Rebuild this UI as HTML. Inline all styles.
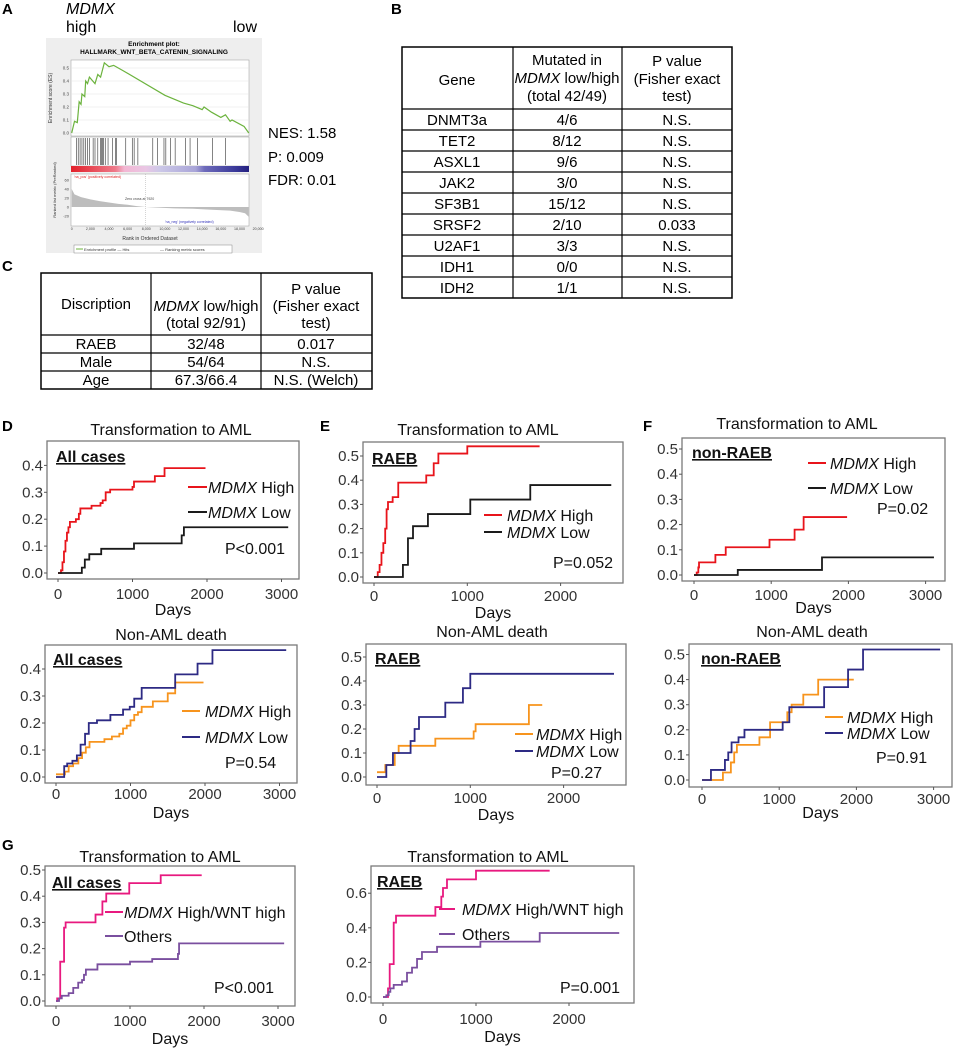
<!DOCTYPE html>
<html><head><meta charset="utf-8">
<style>
html,body{margin:0;padding:0;background:#fff;}
svg{display:block;font-family:"Liberation Sans",Arial,sans-serif;}
</style></head>
<body>
<svg id="fig" width="953" height="1050" viewBox="0 0 953 1050" xmlns="http://www.w3.org/2000/svg">
<text x="2" y="14" font-size="15" font-weight="bold">A</text>
<text x="391" y="14" font-size="15" font-weight="bold">B</text>
<text x="2" y="271" font-size="15" font-weight="bold">C</text>
<text x="2" y="431" font-size="15" font-weight="bold">D</text>
<text x="320" y="431" font-size="15" font-weight="bold">E</text>
<text x="643" y="431" font-size="15" font-weight="bold">F</text>
<text x="2" y="850" font-size="15" font-weight="bold">G</text>

<text x="66" y="14" font-size="16" font-style="italic">MDMX</text>
<text x="66" y="32" font-size="16">high</text>
<text x="233" y="32" font-size="16">low</text>
<g id="gsea">
<rect x="46" y="38" width="216" height="215" fill="#eeeeee"/>
<text x="154" y="46" font-size="6.5" font-weight="bold" text-anchor="middle">Enrichment plot:</text>
<text x="154" y="54" font-size="6.5" font-weight="bold" text-anchor="middle">HALLMARK_WNT_BETA_CATENIN_SIGNALING</text>
<rect x="71" y="60" width="178" height="76" fill="#fff" stroke="#999" stroke-width="0.5"/>
<rect x="71" y="137" width="178" height="29" fill="#fff" stroke="#999" stroke-width="0.5"/>
<defs><linearGradient id="cbar" x1="0" x2="1" y1="0" y2="0">
<stop offset="0" stop-color="#e3202a"/><stop offset="0.25" stop-color="#ee7a8a"/><stop offset="0.3" stop-color="#f3b7d3"/><stop offset="0.42" stop-color="#e9c6e4"/><stop offset="0.5" stop-color="#ccc8e8"/><stop offset="0.7" stop-color="#a9a5d8"/><stop offset="0.75" stop-color="#6e6bbb"/><stop offset="0.92" stop-color="#3b3a9a"/><stop offset="1" stop-color="#24207f"/></linearGradient></defs>
<rect x="71" y="166" width="178" height="6" fill="url(#cbar)"/>
<rect x="71" y="174" width="178" height="52" fill="#fff" stroke="#999" stroke-width="0.5"/>
<text x="74" y="178" font-size="3.5" fill="#e02020">'na_pos' (positively correlated)</text>
<text x="125" y="200" font-size="3.5" fill="#444">Zero cross at 7920</text>
<text x="165" y="223" font-size="3.5" fill="#3333bb">'na_neg' (negatively correlated)</text>
<text x="150" y="240" font-size="5" text-anchor="middle" fill="#333">Rank in Ordered Dataset</text>
<text transform="translate(52,98) rotate(-90)" font-size="5" text-anchor="middle" fill="#333">Enrichment score (ES)</text>
<text transform="translate(56,190) rotate(-90)" font-size="4" text-anchor="middle" fill="#333">Ranked list metric (PreRanked)</text>
<rect x="74" y="245" width="158" height="8" fill="#fff" stroke="#888" stroke-width="0.5"/>
<line x1="76" y1="249" x2="83" y2="249" stroke="#6cb33e" stroke-width="1"/>
<text x="84" y="251" font-size="4" fill="#333">Enrichment profile — Hits</text>
<text x="160" y="251" font-size="4" fill="#333">— Ranking metric scores</text>
</g>
<text x="268" y="138" font-size="15">NES: 1.58</text>
<text x="268" y="162" font-size="15">P: 0.009</text>
<text x="268" y="185" font-size="15">FDR: 0.01</text>

<g id="tableB"></g>
<g id="tableC"></g>
<g id="panels"></g>
</svg>
<script>
var esRank=[0,300,600,700,800,1000,1100,1400,1500,1700,1900,2500,2800,3100,3500,4000,4500,5500,10000,12000,13000,14000,14200,15000,16000,16500,17000,17200,18500,19000];
var esVal=[0,0.09,0.08,0.16,0.24,0.22,0.3,0.28,0.4,0.38,0.43,0.38,0.45,0.43,0.54,0.51,0.52,0.48,0.29,0.23,0.21,0.18,0.2,0.16,0.12,0.14,0.09,0.1,0.05,0];
var hitRanks=[500,700,900,1100,1300,1500,1700,1900,2300,2500,2800,3100,3200,3300,3400,3600,3900,4400,4700,4800,5800,6500,6700,7100,8700,9200,9900,10100,10600,11100,12200,12700,13500,15100,16500];
var metricRank=[0,300,1000,2000,3000,4000,5000,6000,7000,7920,9000,11000,13000,15000,17000,18000,18600,19000];
var metricVal=[40,28,22,17,13,10,7,5,2,0,-1,-3,-4,-6,-8,-11,-14,-22];

var bGenes=["DNMT3a","TET2","ASXL1","JAK2","SF3B1","SRSF2","U2AF1","IDH1","IDH2"];
var bCounts=["4/6","8/12","9/6","3/0","15/12","2/10","3/3","0/0","1/1"];
var bPvals=["N.S.","N.S.","N.S.","N.S.","N.S.","0.033","N.S.","N.S.","N.S."];
var cDesc=["RAEB","Male","Age"];
var cCounts=["32/48","54/64","67.3/66.4"];
var cPvals=["0.017","N.S.","N.S. (Welch)"];

var dTopHighT=[0,40,60,80,100,120,140,160,240,280,300,450,570,600,640,700,1000,1020,1300,1430];
var dTopHighV=[0,0.01,0.04,0.08,0.12,0.15,0.17,0.19,0.2,0.22,0.24,0.25,0.26,0.27,0.3,0.31,0.32,0.34,0.36,0.39];
var dTopHighEnd=1980;
var dTopLowT=[0,320,360,420,580,1020,1660,1690];
var dTopLowV=[0,0.02,0.05,0.07,0.09,0.11,0.14,0.17];
var dTopLowEnd=3090;
var dBotHighT=[0,120,170,230,300,350,400,450,650,750,850,900,950,1000,1050,1100,1150,1300,1500,1600];
var dBotHighV=[0.01,0.02,0.04,0.05,0.07,0.09,0.11,0.13,0.14,0.15,0.16,0.18,0.19,0.21,0.23,0.24,0.26,0.28,0.31,0.35];
var dBotHighEnd=1980;
var dBotLowT=[0,110,150,220,280,330,390,440,550,730,900,990,1050,1150,1600,1900,2100];
var dBotLowV=[0,0.04,0.05,0.06,0.08,0.12,0.16,0.2,0.21,0.23,0.25,0.26,0.29,0.33,0.38,0.42,0.47];
var dBotLowEnd=3090;
var eTopHighT=[0,40,60,80,100,120,135,150,200,260,560,640,690,1000];
var eTopHighV=[0,0.02,0.05,0.1,0.14,0.2,0.28,0.31,0.33,0.39,0.42,0.47,0.51,0.54];
var eTopHighEnd=1775;
var eTopLowT=[0,310,364,418,578,1032,1675];
var eTopLowV=[0,0.05,0.16,0.21,0.26,0.32,0.38];
var eTopLowEnd=2543;
var eBotHighT=[0,89,190,232,625,1036,1057,1628];
var eBotHighV=[0.02,0.05,0.1,0.13,0.16,0.19,0.22,0.3];
var eBotHighEnd=1771;
var eBotLowT=[0,100,171,360,403,450,732,921,1000];
var eBotLowV=[0,0.05,0.1,0.15,0.2,0.25,0.31,0.37,0.43];
var eBotLowEnd=2540;
var fTopHighT=[0,35,56,65,277,411,978,1303,1420];
var fTopHighV=[0,0.01,0.03,0.05,0.08,0.11,0.14,0.18,0.23];
var fTopHighEnd=1983;
var fTopLowT=[0,567,1658];
var fTopLowV=[0,0.02,0.07];
var fTopLowEnd=3108;
var fBotHighT=[0,271,374,417,452,744,882,1105,1161,1312,1505];
var fBotHighV=[0,0.03,0.07,0.11,0.14,0.17,0.23,0.27,0.3,0.34,0.4];
var fBotHighEnd=1966;
var fBotLowT=[0,116,297,340,383,473,550,1045,1131,1582,1892,2086];
var fBotLowV=[0,0.04,0.08,0.11,0.15,0.17,0.2,0.23,0.29,0.37,0.44,0.52];
var fBotLowEnd=3084;
var gLeftHighT=[0,16,57,109,130,534,627,679,990,1415];
var gLeftHighV=[0,0.01,0.15,0.28,0.3,0.33,0.38,0.41,0.45,0.48];
var gLeftHighEnd=1969;
var gLeftOthT=[0,41,78,171,233,300,352,378,404,560,1000,1300,1648,1663];
var gLeftOthV=[0,0.01,0.02,0.03,0.05,0.07,0.08,0.1,0.12,0.14,0.15,0.16,0.18,0.22];
var gLeftOthEnd=3083;
var gRightHighT=[0,54,72,115,140,563,627,645,688,1000];
var gRightHighV=[0,0.05,0.19,0.43,0.47,0.52,0.58,0.63,0.68,0.73];
var gRightHighEnd=1792;
var gRightOthT=[0,36,61,79,115,204,258,312,366,419,581,1047,1685];
var gRightOthV=[0,0.01,0.03,0.05,0.07,0.09,0.14,0.17,0.22,0.26,0.29,0.32,0.37];
var gRightOthEnd=2540;
var ticks05=[0,0.1,0.2,0.3,0.4,0.5];
var ticks04=[0,0.1,0.2,0.3,0.4];
var ticks06=[0,0.2,0.4,0.6];
var days3000=[0,1000,2000,3000];
var days2000=[0,1000,2000];

var NS="http://www.w3.org/2000/svg";
function mk(parent,tag,attrs,txt){var e=document.createElementNS(NS,tag);for(var k in attrs)e.setAttribute(k,attrs[k]);if(txt!==undefined)e.textContent=txt;parent.appendChild(e);return e;}

(function(){
  var g=document.getElementById('gsea');
  function gx(r){return 71.7+r*0.00932;}
  function gy(v){return 133-v*130;}
  [0,0.1,0.2,0.3,0.4,0.5].forEach(function(v){
    var l=mk(g,'line',{x1:71,x2:249,y1:gy(v),y2:gy(v),stroke:'#e4e4e4','stroke-width':0.5});
    
    
    var t=mk(g,'text',{x:69,y:gy(v)+1.5,'font-size':4.5,'text-anchor':'end',fill:'#444'},v.toFixed(1));
    
    
  });
  [0,2000,4000,6000,8000,10000,12000,14000,16000,18000,20000].forEach(function(r){
    var t=mk(g,'text',{x:gx(r),y:230,'font-size':3.6,'text-anchor':'middle',fill:'#444'},r===0?'0':(r/1000)+',000');
    
    
  });
  [60,40,20,0,-20].forEach(function(v){
    var t=mk(g,'text',{x:69,y:207-v*0.45+1.5,'font-size':4,'text-anchor':'end',fill:'#444'},String(v));
    
    
  });
  var pts=esRank.map(function(r,i){return gx(r)+','+gy(esVal[i]);}).join(' ');
  var pl=mk(g,'polyline',{points:pts,fill:'none',stroke:'#6cb33e','stroke-width':1.2});
  
  
  hitRanks.forEach(function(r){
    var h=mk(g,'line',{x1:gx(r),x2:gx(r),y1:138,y2:165,stroke:'#333','stroke-width':0.6});
    
    
  });
  var d='M'+gx(0)+',207 ';
  metricRank.forEach(function(r,i){d+='L'+gx(r)+','+(207-metricVal[i]*0.45)+' ';});
  d+='L'+gx(19000)+',207 Z';
  var a=mk(g,'path',{d:d,fill:'#bdbdbd',stroke:'none'});
  
  
  var zl=mk(g,'line',{x1:gx(7920),x2:gx(7920),y1:174,y2:226,stroke:'#aaa','stroke-width':0.5,'stroke-dasharray':'1,1'});
  
  
})();

function cellText(g,x,y,s,opts){var t=mk(g,'text',Object.assign({x:x,y:y,'font-size':15,'text-anchor':'middle'},opts||{}),s);return t;}
(function(){
  var g=document.getElementById('tableB');
  var top=47, hb=109, rh=21, n=bGenes.length, bot=hb+rh*n;
  var r=mk(g,'rect',{x:402,y:top,width:330,height:bot-top,fill:'none',stroke:'#000','stroke-width':1.5});
  
  
  [513,622].forEach(function(x){var l=mk(g,'line',{x1:x,x2:x,y1:top,y2:bot,stroke:'#000','stroke-width':1.2});
    
    });
  for(var i=0;i<n;i++){var y=hb+rh*i;var l=mk(g,'line',{x1:402,x2:732,y1:y,y2:y,stroke:'#000','stroke-width':1.2});
    
    }
  var t;
  t=cellText(g,457,85,'Gene');
  
  
  t=cellText(g,567,65,'Mutated in');
  
  
  t=mk(g,'text',{x:567,y:83,'font-size':15,'text-anchor':'middle'});
  
  
  mk(t,'tspan',{'font-style':'italic'},'MDMX');mk(t,'tspan',{},' low/high');
  t=cellText(g,567,101,'(total 42/49)');
  
  
  t=cellText(g,677,66,'P value');
  
  
  t=cellText(g,677,84,'(Fisher exact');
  
  
  t=cellText(g,677,101,'test)');
  
  
  for(var j=0;j<n;j++){var yb=hb+rh*j+16;
    t=cellText(g,457,yb,bGenes[j]);
    
    
    t=cellText(g,567,yb,bCounts[j]);
    
    
    t=cellText(g,677,yb,bPvals[j]);
    
    
  }
})();
(function(){
  var g=document.getElementById('tableC');
  var top=273, rows=[335,353,371,389];
  var r=mk(g,'rect',{x:41,y:top,width:331,height:389-top,fill:'none',stroke:'#000','stroke-width':1.5});
  
  
  [151,261].forEach(function(x){var l=mk(g,'line',{x1:x,x2:x,y1:top,y2:389,stroke:'#000','stroke-width':1.2});
    
    });
  [335,353,371].forEach(function(y){var l=mk(g,'line',{x1:41,x2:372,y1:y,y2:y,stroke:'#000','stroke-width':1.2});
    
    });
  var t;
  t=cellText(g,96,309,'Discription');
  
  
  t=mk(g,'text',{x:206,y:311,'font-size':15,'text-anchor':'middle'});
  
  
  mk(t,'tspan',{'font-style':'italic'},'MDMX');mk(t,'tspan',{},' low/high');
  t=cellText(g,206,328,'(total 92/91)');
  
  
  t=cellText(g,316,294,'P value');
  
  
  t=cellText(g,316,311,'(Fisher exact');
  
  
  t=cellText(g,316,328,'test)');
  
  
  for(var j=0;j<cDesc.length;j++){var yb=rows[j]+14;
    t=cellText(g,96,yb,cDesc[j]);
    
    
    t=cellText(g,206,yb,cCounts[j]);
    
    
    t=cellText(g,316,yb,cPvals[j]);
    
    
  }
})();

var RED='#e8141b',BLK='#1a1a1a',ORG='#f7941d',NAV='#2d2a84',MAG='#e8197f',PUR='#7a4f9f';
function panel(c){
  var root=document.getElementById('panels');
  var g=mk(root,'g',{});
  
  
  function X(d){return c.x0+d*c.k/1000;}
  function Y(v){return c.y0-v*c.ys*10;}
  var b=c.box;
  var t=mk(g,'text',{x:c.tx,y:c.ty,'font-size':16,'text-anchor':'middle',fill:'#111'},c.title);
  
  
  var r=mk(g,'rect',{x:b[0],y:b[1],width:b[2]-b[0],height:b[3]-b[1],fill:'#fff',stroke:'#7a7a7a','stroke-width':1.3});
  
  
  c.yt.forEach(function(v){
    var l=mk(g,'line',{x1:b[0]-3,x2:b[0],y1:Y(v),y2:Y(v),stroke:'#555','stroke-width':1});
    
    
    var tt=mk(g,'text',{x:b[0]-4,y:Y(v)+5,'font-size':15,'text-anchor':'end',fill:'#333'},v.toFixed(1));
    
    
  });
  c.xt.forEach(function(d){
    var l=mk(g,'line',{x1:X(d),x2:X(d),y1:b[3],y2:b[3]+3,stroke:'#555','stroke-width':1});
    
    
    var tt=mk(g,'text',{x:X(d),y:c.tickY,'font-size':15,'text-anchor':'middle',fill:'#333'},String(d));
    
    
  });
  var dl=mk(g,'text',{x:(b[0]+b[2])/2,y:c.daysY,'font-size':16,'text-anchor':'middle',fill:'#111'},'Days');
  
  
  var lb=mk(g,'text',{x:c.lx,y:c.ly,'font-size':16,'font-weight':'bold','text-decoration':'underline',fill:'#111'},c.label);
  
  
  c.series.forEach(function(s,i){
    var d='M'+X(s.t[0])+','+Y(s.v[0]);
    for(var j=1;j<s.t.length;j++){d+=' H'+X(s.t[j])+' V'+Y(s.v[j]);}
    d+=' H'+X(s.end);
    var p=mk(g,'path',{d:d,fill:'none',stroke:s.col,'stroke-width':1.8});
    
    
    var L=c.leg[i];
    var ll=mk(g,'line',{x1:L[0],x2:L[1],y1:L[2],y2:L[2],stroke:s.col,'stroke-width':2});
    
    
    var lt=mk(g,'text',{x:L[3],y:L[2]+6,'font-size':16,fill:'#111'});
    
    
    if(s.it){mk(lt,'tspan',{'font-style':'italic'},s.it);}
    mk(lt,'tspan',{},s.lab);
  });
  var pt=mk(g,'text',{x:c.px,y:c.py,'font-size':16,fill:'#111'},c.p);
  
  
}
panel({name:'km-d-transformation',box:[47,441,299,579],x0:58,k:74.5,y0:573,ys:26.9,yt:ticks04,xt:days3000,tickY:599,daysY:615,
  title:'Transformation to AML',tx:171,ty:435,label:'All cases',lx:56,ly:462,
  series:[{t:dTopHighT,v:dTopHighV,end:dTopHighEnd,col:RED,it:'MDMX',lab:' High',id:'mdmx-high'},{t:dTopLowT,v:dTopLowV,end:dTopLowEnd,col:BLK,it:'MDMX',lab:' Low',id:'mdmx-low'}],
  leg:[[188,207,487,208],[188,207,512,208]],p:'P<0.001',px:225,py:554});
panel({name:'km-d-death',box:[45,645,297,783],x0:56,k:74.5,y0:777,ys:27,yt:ticks04,xt:days3000,tickY:799,daysY:818,
  title:'Non-AML death',tx:171,ty:640,label:'All cases',lx:53,ly:665,
  series:[{t:dBotHighT,v:dBotHighV,end:dBotHighEnd,col:ORG,it:'MDMX',lab:' High',id:'mdmx-high'},{t:dBotLowT,v:dBotLowV,end:dBotLowEnd,col:NAV,it:'MDMX',lab:' Low',id:'mdmx-low'}],
  leg:[[182,200,711,205],[182,200,737,205]],p:'P=0.54',px:225,py:768});
panel({name:'km-e-transformation',box:[363,442,623,583],x0:374,k:93.3,y0:577,ys:24.2,yt:ticks05,xt:days2000,tickY:601,daysY:618,
  title:'Transformation to AML',tx:478,ty:435,label:'RAEB',lx:372,ly:464,
  series:[{t:eTopHighT,v:eTopHighV,end:eTopHighEnd,col:RED,it:'MDMX',lab:' High',id:'mdmx-high'},{t:eTopLowT,v:eTopLowV,end:eTopLowEnd,col:BLK,it:'MDMX',lab:' Low',id:'mdmx-low'}],
  leg:[[484,502,515,507],[484,502,532,507]],p:'P=0.052',px:553,py:568});
panel({name:'km-e-death',box:[366,644,626,785],x0:377,k:93.3,y0:777,ys:24,yt:ticks05,xt:days2000,tickY:803,daysY:820,
  title:'Non-AML death',tx:492,ty:637,label:'RAEB',lx:375,ly:664,
  series:[{t:eBotHighT,v:eBotHighV,end:eBotHighEnd,col:ORG,it:'MDMX',lab:' High',id:'mdmx-high'},{t:eBotLowT,v:eBotLowV,end:eBotLowEnd,col:NAV,it:'MDMX',lab:' Low',id:'mdmx-low'}],
  leg:[[515,533,734,536],[515,533,751,536]],p:'P=0.27',px:551,py:778});
panel({name:'km-f-transformation',box:[682,438,945,581],x0:694,k:77.2,y0:575,ys:25.2,yt:ticks05,xt:days3000,tickY:600,daysY:613,
  title:'Transformation to AML',tx:797,ty:429,label:'non-RAEB',lx:692,ly:458,
  series:[{t:fTopHighT,v:fTopHighV,end:fTopHighEnd,col:RED,it:'MDMX',lab:' High',id:'mdmx-high'},{t:fTopLowT,v:fTopLowV,end:fTopLowEnd,col:BLK,it:'MDMX',lab:' Low',id:'mdmx-low'}],
  leg:[[808,826,463,830],[808,826,488,830]],p:'P=0.02',px:877,py:514});
panel({name:'km-f-death',box:[689,644,952,787],x0:702,k:77.2,y0:780,ys:25.1,yt:ticks05,xt:days3000,tickY:804,daysY:818,
  title:'Non-AML death',tx:812,ty:637,label:'non-RAEB',lx:701,ly:664,
  series:[{t:fBotHighT,v:fBotHighV,end:fBotHighEnd,col:ORG,it:'MDMX',lab:' High',id:'mdmx-high'},{t:fBotLowT,v:fBotLowV,end:fBotLowEnd,col:NAV,it:'MDMX',lab:' Low',id:'mdmx-low'}],
  leg:[[825,843,717,847],[825,843,733,847]],p:'P=0.91',px:876,py:763});
panel({name:'km-g-all',box:[45,866,295,1006],x0:56,k:74,y0:1001,ys:26.2,yt:ticks05,xt:days3000,tickY:1026,daysY:1044,
  title:'Transformation to AML',tx:160,ty:862,label:'All cases',lx:52,ly:888,
  series:[{t:gLeftHighT,v:gLeftHighV,end:gLeftHighEnd,col:MAG,it:'MDMX',lab:' High/WNT high',id:'wnt-high'},{t:gLeftOthT,v:gLeftOthV,end:gLeftOthEnd,col:PUR,it:'',lab:'Others',id:'others'}],
  leg:[[105,123,912,124],[105,123,936,124]],p:'P<0.001',px:214,py:993});
panel({name:'km-g-raeb',box:[371,866,634,1003],x0:383,k:93,y0:997,ys:17.3,yt:ticks06,xt:days2000,tickY:1024,daysY:1042,
  title:'Transformation to AML',tx:488,ty:862,label:'RAEB',lx:377,ly:887,
  series:[{t:gRightHighT,v:gRightHighV,end:gRightHighEnd,col:MAG,it:'MDMX',lab:' High/WNT high',id:'wnt-high'},{t:gRightOthT,v:gRightOthV,end:gRightOthEnd,col:PUR,it:'',lab:'Others',id:'others'}],
  leg:[[439,455,909,462],[439,455,934,462]],p:'P=0.001',px:560,py:993});
</script>
</body></html>
